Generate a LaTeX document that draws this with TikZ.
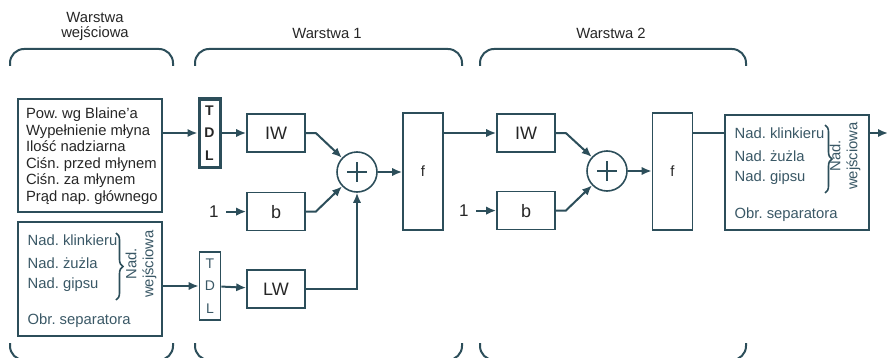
\documentclass[tikz,border=0pt]{standalone}
\usepackage{fontspec}
\setmainfont{Liberation Sans}
\usepackage{tikz}
\usetikzlibrary{positioning, calc, decorations.pathreplacing, arrows.meta}
\definecolor{lineteal}{RGB}{44,78,90}
\definecolor{textteal}{RGB}{58,88,102}
\frenchspacing

\begin{document}
\begin{tikzpicture}[x=0.5pt, y=-0.5pt, line width=1pt, color=lineteal,
    >={Latex[length=5pt,width=4.2pt]},
    every node/.style={text=black!85, font=\fontsize{7.4}{8.25}\selectfont},
    blk/.style={draw, rectangle, line width=0.8pt, minimum width=29pt, minimum height=19pt, inner sep=0pt, font=\fontsize{9}{10}\selectfont},
    tdl/.style={draw, rectangle, line width=0.8pt, align=center, minimum width=10.5pt, minimum height=34pt, inner sep=0pt},
    sum/.style={draw, circle, line width=0.8pt, minimum size=20pt, inner sep=0pt},
    fbox/.style={draw, rectangle, line width=0.8pt, minimum width=20pt, minimum height=58.5pt, inner sep=0pt},
    datbox/.style={draw, rectangle, line width=0.8pt, minimum width=72pt, minimum height=57pt},
    small/.style={text=textteal, anchor=west},
    layer/.style={rounded corners=7pt}]
\useasboundingbox (0,0) rectangle (887,358);
\clip (0,0) rectangle (887,358);

% layers
\foreach \xa/\xb in {10/173, 195/462, 480/746} {
  \draw[layer] (\xa,66) -- (\xa,49) -- (\xb,49) -- (\xb,66);
  \draw[layer] (\xa,343) -- (\xa,360) -- (\xb,360) -- (\xb,343);
}
\node[align=center, font=\fontsize{7.4}{7.5}\selectfont] (lay0) at (95,26) {Warstwa\\wejściowa};
\node (lay1) at (327,33) {Warstwa 1};
\node (lay2) at (611,33) {Warstwa 2};

% inputs
\node[datbox, minimum height=56.5pt] (in1) at (90,155.5) {};
\node[anchor=west, align=left, inner sep=0pt] (in1t) at (25,156)
  {Pow. wg Blaine'a\\Wypełnienie młyna\\Ilość nadziarna\\Ciśn. przed młynem\\Ciśn. za młynem\\Prąd nap. głównego};
\node[datbox] (in2) at (90,279) {};
\node[small] (in2a) at (20,240) {Nad. klinkieru};
\node[small] (in2b) at (20,263) {Nad. żużla};
\node[small] (in2c) at (20,285) {Nad. gipsu};
\node[small] (in2d) at (20,321) {Obr. separatora};
\draw[decorate, decoration={brace, amplitude=3.5pt}, line width=0.8pt] (116,233) -- (116,300);
\node[rotate=90, align=center, text=textteal, font=\fontsize{7.4}{8.5}\selectfont] (in2e) at (141,264) {Nad.\\wejściowa};

% layer 1
\node[tdl, line width=1.5pt, font=\bfseries\fontsize{7}{11.25}\selectfont] (tdl1) at (209.5,133) {T\\D\\L};
\node[tdl, text=textteal, font=\fontsize{7}{11.25}\selectfont] (tdl2) at (210,286) {T\\D\\L};
\node[blk] (iw1) at (276,133) {IW};
\node[blk, below=19.5pt of iw1] (b1) {b};
\node[blk, below=19pt of b1] (lw) {LW};
\node[left=10pt of b1, font=\fontsize{8.5}{9}\selectfont] (one1) {1};
\node[sum] (sum1) at (357,172) {};
\node[fbox] (f1) at (423,171.5) {f};

% layer 2
\node[blk] (iw2) at (526,133) {IW};
\node[blk, below=19pt of iw2] (b2) {b};
\node[left=10pt of b2, font=\fontsize{8.5}{9}\selectfont] (one2) {1};
\node[sum] (sum2) at (607,171) {};
\node[fbox] (f2) at (672.5,171.5) {f};

% outputs
\node[datbox, minimum height=57.5pt] (out) at (797,172.5) {};
\node[small] (out1) at (727,133) {Nad. klinkieru};
\node[small] (out2) at (727,156) {Nad. żużla};
\node[small] (out3) at (727,178) {Nad. gipsu};
\node[small] (out4) at (727,215) {Obr. separatora};
\draw[decorate, decoration={brace, amplitude=3.5pt}, line width=0.8pt] (825,125) -- (825,193);
\node[rotate=90, align=center, text=textteal, font=\fontsize{7.4}{8.5}\selectfont] (out5) at (845,156) {Nad.\\wejściowa};
\coordinate (end) at (888,133);

\foreach \s in {sum1, sum2}
  \draw[line width=0.6pt] ($(\s)+(-10,0)$) -- ($(\s)+(10,0)$) ($(\s)+(0,-10)$) -- ($(\s)+(0,10)$);

\draw[->] (in1.east |- tdl1) -- (tdl1);
\draw[->] (in2.east |- tdl2) -- (tdl2);
\draw[->] (tdl1) -- (iw1);
\draw[->] (tdl2) -- (lw);
\draw[->] (one1) -- (b1);
\draw[->] (iw1.east) -- ++(10,0) -- (sum1);
\draw[->] (b1.east) -- ++(10,0) -- (sum1);
\draw[->] (lw.east) -| (sum1);
\draw[->] (sum1) -- (sum1 -| f1.west);
\draw[->] (f1.east |- iw2) -- (iw2);
\draw[->] (one2) -- (b2);
\draw[->] (iw2.east) -- ++(10,0) -- (sum2);
\draw[->] (b2.east) -- ++(10,0) -- (sum2);
\draw[->] (sum2) -- (sum2 -| f2.west);
\draw (f2.east |- out1) -- (out.west |- out1);
\draw[->] (out.east |- out1) -- (end);
\end{tikzpicture}
\end{document}
